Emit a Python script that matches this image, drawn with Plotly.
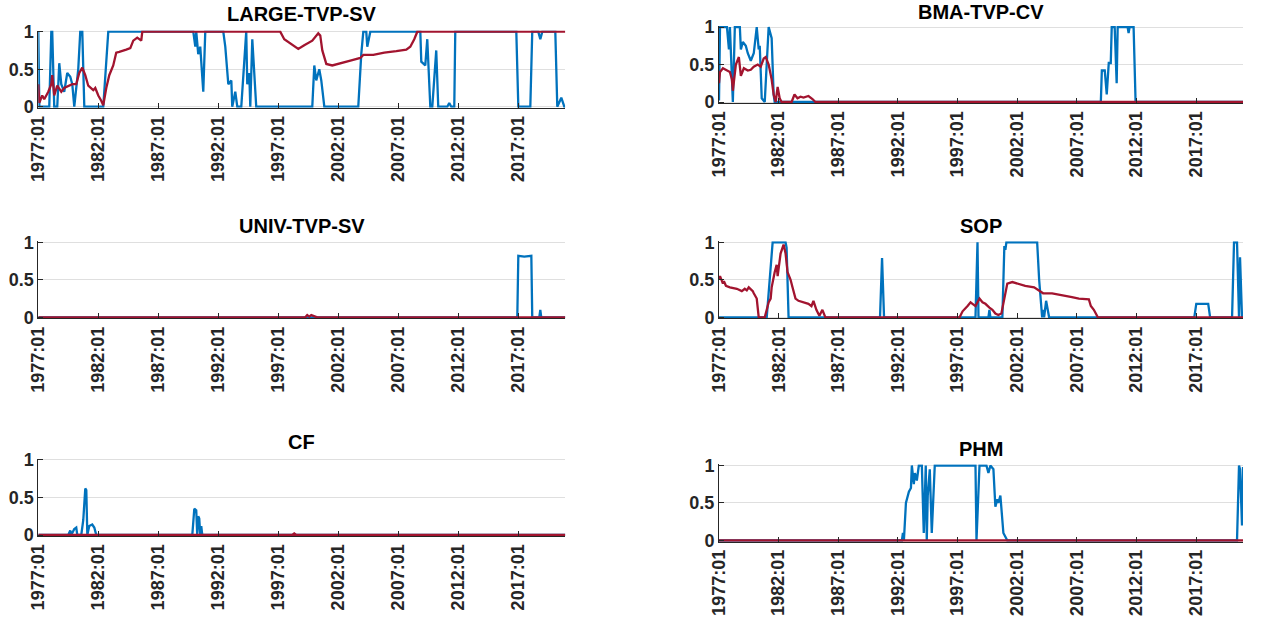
import plotly.graph_objects as go

# ---------------- data ----------------
tick_labels = ["1977:01", "1982:01", "1987:01", "1992:01", "1997:01",
               "2002:01", "2007:01", "2012:01", "2017:01"]
y_tick_vals = [0, 0.5, 1]
y_tick_text = ["0", "0.5", "1"]
x_start, x_end = "1977-01-01", "2020-12-01"

# LARGE-TVP-SV
large_blue_t = ["1977-01", "1977-02", "1977-12", "1978-02", "1978-03", "1978-05", "1978-08", "1978-10",
                "1978-12", "1979-03", "1979-06", "1979-09", "1979-11", "1980-01", "1980-05", "1980-07",
                "1980-09", "1980-11", "1982-06", "1982-11", "1989-12", "1990-02", "1990-03", "1990-05",
                "1990-07", "1990-10", "1990-12", "1992-06", "1992-08", "1992-11", "1993-02", "1993-03",
                "1993-06", "1993-08", "1993-12", "1994-02", "1994-05", "1994-06", "1994-08", "1994-09",
                "1994-11", "1995-03", "1999-11", "2000-01", "2000-03", "2000-06", "2000-08", "2000-11",
                "2003-09", "2003-12", "2004-02", "2004-05", "2004-06", "2004-09", "2008-11", "2008-12",
                "2009-04", "2009-06", "2009-09", "2009-11", "2010-03", "2010-05", "2011-02", "2011-04",
                "2011-06", "2011-09", "2011-10", "2016-11", "2017-01", "2018-01", "2018-03", "2018-09",
                "2018-11", "2019-01", "2020-02", "2020-04", "2020-08", "2020-11", "2020-12"]
large_blue_v = [1.0, 0.0, 0.0, 1.0, 1.0, 0.0, 0.0, 0.58,
                0.3, 0.2, 0.45, 0.4, 0.3, 0.0, 0.5, 1.0,
                1.0, 0.0, 0.0, 1.0, 1.0, 0.8, 1.0, 0.7,
                0.8, 0.2, 1.0, 1.0, 0.8, 0.3, 0.35, 0.0,
                0.2, 0.0, 0.0, 0.4, 1.0, 0.3, 0.45, 0.0,
                0.9, 0.0, 0.0, 0.55, 0.35, 0.5, 0.35, 0.0,
                0.0, 0.7, 1.0, 1.0, 0.8, 1.0, 1.0, 0.6,
                0.55, 0.9, 0.0, 0.0, 0.75, 0.0, 0.0, 0.05,
                0.0, 0.0, 1.0, 1.0, 0.0, 0.0, 1.0, 1.0,
                0.9, 1.0, 1.0, 0.0, 0.12, 0.0, 0.0]
large_red_t = ["1977-01", "1977-02", "1977-05", "1977-07", "1977-11", "1978-02", "1978-03", "1978-05",
               "1978-08", "1978-12", "1979-03", "1979-07", "1979-11", "1980-03", "1980-06", "1980-09",
               "1980-12", "1981-03", "1981-08", "1981-10", "1982-01", "1982-04", "1982-06", "1982-09",
               "1982-12", "1983-04", "1983-07", "1983-10", "1984-01", "1984-05", "1984-09", "1984-12",
               "1985-04", "1985-08", "1985-09", "1997-03", "1997-07", "1998-02", "1998-09", "1999-03",
               "1999-11", "2000-05", "2000-07", "2000-09", "2001-01", "2001-07", "2002-05", "2003-03",
               "2003-11", "2004-02", "2004-12", "2005-11", "2006-11", "2007-09", "2008-01", "2008-05",
               "2008-08", "2020-12"]
large_red_v = [0.3, 0.05, 0.15, 0.1, 0.2, 0.3, 0.42, 0.15,
               0.28, 0.2, 0.25, 0.27, 0.3, 0.3, 0.45, 0.52,
               0.42, 0.28, 0.22, 0.25, 0.15, 0.08, 0.02, 0.25,
               0.42, 0.55, 0.72, 0.73, 0.74, 0.76, 0.78, 0.88,
               0.92, 0.88, 1.0, 1.0, 0.9, 0.83, 0.77, 0.82,
               0.88, 0.98, 0.95, 0.75, 0.57, 0.55, 0.58, 0.62,
               0.65, 0.69, 0.69, 0.72, 0.74, 0.76, 0.8, 0.9,
               1.0, 1.0]

# BMA-TVP-CV
bma_blue_t = ["1977-01", "1977-02", "1977-09", "1977-11", "1977-12", "1978-01", "1978-03", "1978-05",
              "1978-10", "1978-11", "1979-01", "1979-04", "1979-06", "1979-09", "1979-12", "1980-03",
              "1980-05", "1980-06", "1980-08", "1980-11", "1981-02", "1981-03", "1981-06", "1981-08",
              "1981-09", "2009-01", "2009-02", "2009-05", "2009-07", "2009-09", "2009-11", "2009-12",
              "2010-03", "2010-05", "2010-06", "2011-04", "2011-05", "2011-06", "2011-10", "2011-12",
              "2020-12"]
bma_blue_v = [0.02, 1.0, 1.0, 0.7, 1.0, 0.7, 0.0, 1.0,
              1.0, 0.7, 0.8, 0.75, 0.65, 0.55, 0.65, 1.0,
              0.7, 0.75, 0.05, 0.0, 0.7, 1.0, 0.85, 0.1,
              0.0, 0.0, 0.42, 0.42, 0.1, 0.52, 0.52, 1.0,
              1.0, 0.25, 1.0, 1.0, 0.92, 1.0, 1.0, 0.0,
              0.0]
bma_red_t = ["1977-01", "1977-02", "1977-05", "1977-09", "1977-12", "1978-02", "1978-03", "1978-06",
             "1978-09", "1978-11", "1979-02", "1979-06", "1979-09", "1979-12", "1980-04", "1980-07",
             "1980-10", "1980-12", "1981-03", "1981-06", "1981-08", "1981-10", "1981-12", "1982-02",
             "1982-04", "1983-02", "1983-05", "1983-08", "1983-11", "1984-02", "1984-07", "1984-11",
             "1985-02", "2020-12"]
bma_red_v = [0.25, 0.4, 0.45, 0.42, 0.4, 0.3, 0.15, 0.5,
             0.6, 0.35, 0.45, 0.42, 0.43, 0.47, 0.5, 0.47,
             0.58, 0.6, 0.5, 0.3, 0.1, 0.0, 0.2, 0.05,
             0.0, 0.0, 0.1, 0.05, 0.07, 0.06, 0.08, 0.04,
             0.0, 0.0]

# UNIV-TVP-SV
univ_blue_t = ["1977-01", "2016-12", "2017-01", "2017-07", "2018-02", "2018-03", "2018-10", "2018-11",
               "2018-12", "2020-12"]
univ_blue_v = [0.0, 0.0, 0.82, 0.81, 0.82, 0.0, 0.0, 0.1,
               0.0, 0.0]
univ_red_t = ["1977-01", "1999-04", "1999-06", "1999-08", "1999-10", "2000-01", "2000-04", "2020-12"]
univ_red_v = [0.0, 0.0, 0.03, 0.01, 0.03, 0.02, 0.0, 0.0]

# SOP
sop_blue_t = ["1977-01", "1981-01", "1981-07", "1982-08", "1982-09", "1982-11", "1990-07", "1990-09",
              "1990-11", "1998-07", "1998-09", "1998-10", "1999-08", "1999-09", "1999-10", "2000-10",
              "2000-12", "2001-01", "2001-02", "2003-09", "2003-11", "2004-02", "2004-03", "2004-04",
              "2004-06", "2004-09", "2016-11", "2017-01", "2018-01", "2018-03", "2020-01", "2020-03",
              "2020-06", "2020-08", "2020-09", "2020-11", "2020-12"]
sop_blue_v = [0.0, 0.0, 1.0, 1.0, 0.93, 0.0, 0.0, 0.79,
              0.0, 0.0, 1.0, 0.0, 0.0, 0.1, 0.0, 0.0,
              0.95, 0.9, 1.0, 1.0, 0.5, 0.0, 0.1, 0.0,
              0.22, 0.0, 0.0, 0.18, 0.18, 0.0, 0.0, 1.0,
              1.0, 0.0, 0.8, 0.0, 0.0]
sop_red_t = ["1977-01", "1977-02", "1977-05", "1977-06", "1977-08", "1977-12", "1978-07", "1978-12",
             "1979-03", "1979-05", "1979-07", "1979-11", "1979-12", "1980-03", "1980-05", "1980-11",
             "1981-01", "1981-03", "1981-05", "1981-06", "1981-09", "1981-11", "1981-12", "1982-02",
             "1982-03", "1982-06", "1982-08", "1982-10", "1983-01", "1983-03", "1983-06", "1983-09",
             "1984-02", "1984-07", "1984-10", "1984-12", "1985-03", "1985-05", "1985-06", "1985-09",
             "1985-12", "1997-03", "1997-06", "1997-11", "1998-02", "1998-04", "1998-07", "1998-09",
             "1998-11", "1999-02", "1999-05", "1999-09", "1999-12", "2000-03", "2000-06", "2000-09",
             "2000-12", "2001-01", "2001-03", "2001-08", "2002-01", "2002-09", "2003-06", "2003-11",
             "2004-03", "2004-12", "2005-10", "2006-08", "2007-03", "2008-01", "2008-03", "2008-06",
             "2008-08", "2008-10", "2020-12"]
sop_red_v = [0.5, 0.55, 0.45, 0.48, 0.42, 0.4, 0.38, 0.35,
             0.38, 0.36, 0.4, 0.35, 0.32, 0.25, 0.0, 0.0,
             0.1, 0.2, 0.25, 0.4, 0.6, 0.7, 0.55, 0.8,
             0.85, 0.97, 0.85, 0.6, 0.5, 0.4, 0.25, 0.22,
             0.2, 0.18, 0.15, 0.22, 0.1, 0.05, 0.02, 0.1,
             0.0, 0.0, 0.08, 0.15, 0.2, 0.18, 0.15, 0.2,
             0.25, 0.2, 0.18, 0.13, 0.1, 0.05, 0.03, 0.05,
             0.25, 0.35, 0.45, 0.47, 0.45, 0.42, 0.4, 0.35,
             0.32, 0.32, 0.3, 0.27, 0.25, 0.24, 0.15, 0.1,
             0.05, 0.0, 0.0]

# CF
cf_blue_t = ["1977-01", "1979-07", "1979-09", "1979-10", "1980-01", "1980-03", "1980-04", "1980-08",
             "1980-10", "1980-12", "1981-01", "1981-02", "1981-04", "1981-07", "1981-09", "1981-11",
             "1989-11", "1990-01", "1990-03", "1990-04", "1990-05", "1990-06", "1990-07", "1990-08",
             "1990-09", "2020-12"]
cf_blue_v = [0.0, 0.0, 0.06, 0.0, 0.08, 0.1, 0.0, 0.0,
             0.2, 0.62, 0.6, 0.0, 0.12, 0.14, 0.1, 0.0,
             0.0, 0.35, 0.33, 0.0, 0.25, 0.22, 0.0, 0.12,
             0.0, 0.0]
cf_red_t = ["1977-01", "1998-03", "1998-05", "1998-07", "2020-12"]
cf_red_v = [0.0, 0.0, 0.02, 0.0, 0.0]

# PHM
phm_blue_t = ["1977-01", "1992-05", "1992-06", "1992-07", "1992-09", "1992-12", "1993-02", "1993-03",
              "1993-05", "1993-06", "1993-08", "1993-10", "1994-01", "1994-02", "1994-03", "1994-05",
              "1994-06", "1994-07", "1994-09", "1994-11", "1995-02", "1998-07", "1998-08", "1998-11",
              "1999-06", "1999-08", "1999-10", "2000-01", "2000-02", "2000-03", "2000-05", "2000-06",
              "2000-08", "2000-10", "2000-11", "2001-01", "2001-03", "2020-06", "2020-08", "2020-09",
              "2020-11", "2020-12"]
phm_blue_v = [0.0, 0.0, 0.1, 0.0, 0.5, 0.65, 0.7, 1.0,
              0.75, 0.9, 0.8, 1.0, 1.0, 0.6, 0.1, 1.0,
              0.0, 0.6, 0.95, 0.1, 1.0, 1.0, 0.0, 1.0,
              1.0, 0.9, 1.0, 0.95, 0.6, 0.45, 0.55, 0.5,
              0.6, 0.3, 0.1, 0.05, 0.0, 0.0, 1.0, 0.95,
              0.2, 0.98]
phm_red_t = ["1977-01", "2020-12"]
phm_red_v = [0.0, 0.0]

# ---------------- figure ----------------
W, H = 1261, 618
BLUE = "#0072BD"
RED = "#A2142F"
AX = "#262626"
GRID = "#dfdfdf"
FONT = "Liberation Sans, Arial, Helvetica, sans-serif"
Y_PAD = 0.015

panels = [
    ("LARGE-TVP-SV", large_blue_t, large_blue_v, large_red_t, large_red_v, (38.3, 565.3), (31.7, 106.7)),
    ("BMA-TVP-CV", bma_blue_t, bma_blue_v, bma_red_t, bma_red_v, (719.0, 1243.0), (27.0, 102.0)),
    ("UNIV-TVP-SV", univ_blue_t, univ_blue_v, univ_red_t, univ_red_v, (38.3, 565.3), (242.3, 317.3)),
    ("SOP", sop_blue_t, sop_blue_v, sop_red_t, sop_red_v, (719.0, 1243.0), (242.3, 317.3)),
    ("CF", cf_blue_t, cf_blue_v, cf_red_t, cf_red_v, (38.3, 565.3), (460.0, 535.0)),
    ("PHM", phm_blue_t, phm_blue_v, phm_red_t, phm_red_v, (719.0, 1243.0), (465.5, 540.5)),
]
title_offsets = [17.5, 15.0, 16.5, 16.5, 18.0, 16.5]

tick_dates = [lab.replace(":", "-") + "-01" for lab in tick_labels]

fig = go.Figure()
annotations = []
for i, (name, bt, bv, rt, rv, (x0, x1), (ytop, ybot)) in enumerate(panels, start=1):
    sfx = "" if i == 1 else str(i)
    fig.add_trace(go.Scatter(x=bt, y=bv, mode="lines", line=dict(color=BLUE, width=2.3),
                             xaxis="x" + sfx, yaxis="y" + sfx, showlegend=False, hoverinfo="skip"))
    fig.add_trace(go.Scatter(x=rt, y=rv, mode="lines", line=dict(color=RED, width=2.3),
                             xaxis="x" + sfx, yaxis="y" + sfx, showlegend=False, hoverinfo="skip"))
    unit = ybot - ytop
    top_px = ytop - Y_PAD * unit
    bot_px = ybot + Y_PAD * unit
    fig.update_layout(**{
        "xaxis" + sfx: dict(
            domain=[x0 / W, x1 / W], anchor="y" + sfx, type="date", automargin=False,
            range=[x_start, x_end], tickvals=tick_dates, ticktext=tick_labels,
            tickangle=-90, ticks="inside", ticklen=5, tickcolor=AX, tickwidth=1,
            showline=True, linecolor=AX, linewidth=1, showgrid=False, zeroline=False,
            tickfont=dict(family=FONT, size=18, color=AX, weight="bold"),
        ),
        "yaxis" + sfx: dict(
            domain=[1 - bot_px / H, 1 - top_px / H], anchor="x" + sfx, automargin=False,
            range=[-Y_PAD, 1 + Y_PAD], tickvals=y_tick_vals, ticktext=y_tick_text,
            ticks="inside", ticklen=5, tickcolor=AX, tickwidth=1,
            showline=True, linecolor=AX, linewidth=1,
            showgrid=True, gridcolor=GRID, gridwidth=1, zeroline=False,
            tickfont=dict(family=FONT, size=18, color=AX, weight="bold"),
        ),
    })
    annotations.append(dict(
        text=name, xref="paper", yref="paper", x=(x0 + x1) / 2 / W,
        y=1 - (ytop - title_offsets[i - 1]) / H, xanchor="center", yanchor="middle",
        showarrow=False, font=dict(family=FONT, size=20, color="#000000", weight="bold"),
    ))

fig.update_layout(width=W, height=H, margin=dict(l=0, r=0, t=0, b=0, autoexpand=False),
                  paper_bgcolor="white", plot_bgcolor="white",
                  annotations=annotations, showlegend=False)

fig.write_html("out.html", config={"displayModeBar": False, "staticPlot": True},
               post_script="document.body.style.margin='0';document.body.style.overflow='hidden';")
